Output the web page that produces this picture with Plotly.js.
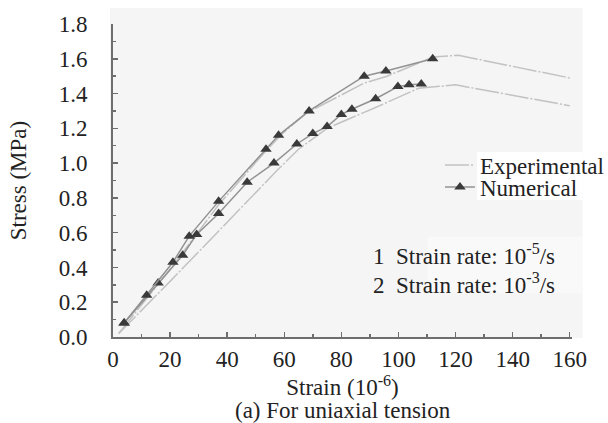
<!DOCTYPE html>
<html>
<head>
<meta charset="utf-8">
<script src="https://cdn.plot.ly/plotly-3.0.1.min.js"></script>
<style>html,body{margin:0;padding:0;background:#fff;}#chart{width:608px;height:423px;}</style>
</head>
<body>
<div id="chart"></div>
<script>
// Experimental curves (strain in 1e-6, stress in MPa)
const exp1Strain = [2, 20, 40, 57, 65, 75, 92, 107, 120, 160];
const exp1Stress = [0.02, 0.32, 0.66, 0.95, 1.08, 1.20, 1.32, 1.43, 1.45, 1.33];
const exp2Strain = [2, 20, 37, 53, 60, 68, 88, 96, 112, 121, 160];
const exp2Stress = [0.02, 0.39, 0.76, 1.06, 1.18, 1.29, 1.46, 1.50, 1.61, 1.62, 1.49];
// Numerical curves
const num1Strain = [3.9, 15.8, 24.4, 29.3, 37, 47, 56.4, 64.4, 70, 75, 80, 83.7, 92, 99.8, 103.7, 108];
const num1Stress = [0.08, 0.31, 0.47, 0.59, 0.71, 0.89, 1.00, 1.11, 1.17, 1.21, 1.28, 1.31, 1.37, 1.44, 1.45, 1.455];
const num2Strain = [3.9, 11.8, 21, 26.7, 37, 53.6, 58, 68.7, 88, 95.6, 112];
const num2Stress = [0.08, 0.24, 0.43, 0.58, 0.78, 1.08, 1.16, 1.30, 1.50, 1.53, 1.60];
// Curve labels
const curveLabels = ["2", "1"];
const curveLabelY = [1.41, 1.26];
const rateLines = ["1  Strain rate: 10<sup>-5</sup>/s", "2  Strain rate: 10<sup>-3</sup>/s"];

const FONT = "Liberation Serif";
const FS = 23;
const TXT = "#222";
const expLine = {color: "#c2c2c2", width: 1.5, dash: "24px,2px,2px,2px"};
const numLine = {color: "#929292", width: 1.5};
const numMarker = {symbol: "triangle-up", size: 10, color: "#3a3a3a"};

const data = [
  {x: exp1Strain, y: exp1Stress, mode: "lines", line: expLine, name: "Experimental", showlegend: true, legend: "legend"},
  {x: exp2Strain, y: exp2Stress, mode: "lines", line: expLine, name: "Experimental", showlegend: false},
  {x: num1Strain, y: num1Stress, mode: "lines+markers", line: numLine, marker: numMarker, name: "Numerical", showlegend: true, legend: "legend2"},
  {x: num2Strain, y: num2Stress, mode: "lines+markers", line: numLine, marker: numMarker, name: "Numerical", showlegend: false}
];

const annotations = [];
curveLabels.forEach((t, i) => annotations.push({
  x: 164.5, y: curveLabelY[i], xref: "x", yref: "y", text: t, showarrow: false,
  font: {family: FONT, size: FS, color: TXT}
}));
rateLines.forEach((t, i) => annotations.push({
  x: 0.562, y: 0.264 - i * 0.092, xref: "paper", yref: "paper", xanchor: "left", yanchor: "middle", text: t, showarrow: false,
  font: {family: FONT, size: FS, color: TXT}
}));
annotations.push({
  x: 0.5, y: 0, xref: "paper", yref: "paper", yanchor: "middle", yshift: -73, text: "(a) For uniaxial tension", showarrow: false,
  font: {family: FONT, size: FS, color: TXT}
});

const legendBase = {xanchor: "left", yanchor: "top", bgcolor: "rgba(0,0,0,0)",
  font: {family: FONT, size: FS, color: TXT}, itemwidth: 30};

const layout = {
  width: 608, height: 423,
  margin: {l: 113, r: 36, t: 24, b: 86, autoexpand: false},
  paper_bgcolor: "#ffffff",
  plot_bgcolor: "rgba(0,0,0,0)",
  font: {family: FONT, size: FS, color: TXT},
  showlegend: true,
  legend: Object.assign({x: 0.7124, y: 0.618}, legendBase),
  legend2: Object.assign({x: 0.7124, y: 0.548}, legendBase),
  xaxis: {
    range: [0, 160.8], dtick: 20, tick0: 0, showgrid: false, zeroline: false,
    showline: true, linecolor: "#6e6e6e", linewidth: 2,
    ticks: "inside", ticklen: 5, tickwidth: 1.5, tickcolor: "#6e6e6e",
    minor: {dtick: 10, ticks: "inside", ticklen: 3, tickcolor: "#6e6e6e", showgrid: false},
    tickfont: {family: FONT, size: FS, color: TXT},
    title: {text: "Strain (10<sup>-6</sup>)", font: {family: FONT, size: FS, color: TXT}, standoff: 1}
  },
  yaxis: {
    range: [0, 1.8], dtick: 0.2, tick0: 0, tickformat: ".1f", showgrid: false, zeroline: false,
    showline: true, linecolor: "#6e6e6e", linewidth: 2,
    ticks: "inside", ticklen: 5, tickwidth: 1.5, tickcolor: "#6e6e6e",
    minor: {dtick: 0.1, ticks: "inside", ticklen: 3, tickcolor: "#6e6e6e", showgrid: false},
    tickfont: {family: FONT, size: FS, color: TXT},
    ticklabelstandoff: 19,
    title: {text: "Stress (MPa)", font: {family: FONT, size: FS, color: TXT}, standoff: 26}
  },
  shapes: [
    {type: "rect", xref: "paper", yref: "paper", x0: -0.0066, x1: 1.023, y0: -0.003, y1: 1.051,
     fillcolor: "#f5f5f5", line: {width: 0}, layer: "below"},
    {type: "rect", xref: "paper", yref: "paper", x0: 0.793, x1: 1.023, y0: 0.438, y1: 0.591,
     fillcolor: "#ffffff", line: {width: 0}, layer: "below"},
    {type: "rect", xref: "paper", yref: "paper", x0: 0.685, x1: 1.023, y0: 0.14, y1: 0.32,
     fillcolor: "#f9f9f9", line: {width: 0}, layer: "below"}
  ],
  annotations: annotations
};

Plotly.newPlot("chart", data, layout, {displayModeBar: false, staticPlot: true});
</script>
</body>
</html>
